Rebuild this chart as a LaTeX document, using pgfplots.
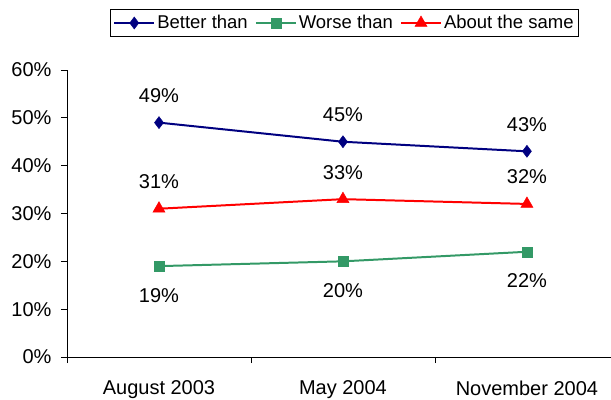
\documentclass[border=0pt]{standalone}
\usepackage{pgfplots}
\pgfplotsset{compat=1.18}
\usepackage{fontspec}
\setmainfont{Liberation Sans}
\definecolor{cnavy}{HTML}{000080}
\definecolor{cgreen}{HTML}{339966}
\definecolor{cred}{HTML}{FF0000}
\begin{document}
\begin{tikzpicture}
\begin{axis}[name=ax, scale only axis, width=544bp, height=287bp,
 /pgf/number format/assume math mode=true,
 xmin=-0.5, xmax=2.457, ymin=0, ymax=60,
 axis x line*=bottom, axis y line*=left,
 xtick={-0.5,0.5,1.5}, xticklabels={},
 extra x ticks={0,1,2},
 extra x tick labels={August 2003, May 2004, November 2004},
 extra x tick style={major tick length=0pt},
 ytick={0,10,...,60}, yticklabel={\pgfmathprintnumber{\tick}\%},
 tick align=outside, tick style={black, line width=0.8pt}, major tick length=6bp,
 axis line style={black, line width=0.8pt},
 ticklabel style={font=\fontsize{20bp}{23bp}\selectfont},
 xticklabel style={yshift=-20bp},
 yticklabel style={xshift=-6bp},
 legend style={at={(rel axis cs:0.51,1.212)}, anchor=north, legend columns=3, draw=black, line width=0.8pt,
   font=\fontsize{18.5bp}{21bp}\selectfont, inner xsep=3bp, inner ysep=4bp,
   /tikz/every even column/.append style={column sep=5bp}},
 legend image code/.code={\draw[mark repeat=2,mark phase=2,#1] plot coordinates {(0bp,0bp)(20bp,0bp)(40bp,0bp)};},
 every axis plot/.append style={line width=2pt},
 nodes near coords={\pgfmathprintnumber{\pgfplotspointmeta}\%},
 every node near coord/.append style={font=\fontsize{20bp}{23bp}\selectfont, black, anchor=center},
]
\addplot[cnavy, mark=diamond*, mark size=6bp, mark options={solid, line width=0.5pt},
  every node near coord/.append style={yshift=27bp}]
  coordinates {(0,49) (1,45) (2,43)};
\addlegendentry{Better than}
\addplot[cgreen, mark=square*, mark size=5bp, mark options={solid, line width=0.5pt},
  every node near coord/.append style={yshift=-29bp}]
  coordinates {(0,19) (1,20) (2,22)};
\addlegendentry{Worse than}
\addplot[cred, mark=triangle*, mark size=7bp, mark options={solid, line width=0.5pt},
  every node near coord/.append style={yshift=27bp}]
  coordinates {(0,31) (1,33) (2,32)};
\addlegendentry{About the same}
\end{axis}
\pgfresetboundingbox
\path[use as bounding box] (ax.south west) ++(-67bp,-43bp) rectangle ++(611bp,400bp);
\end{tikzpicture}
\end{document}
